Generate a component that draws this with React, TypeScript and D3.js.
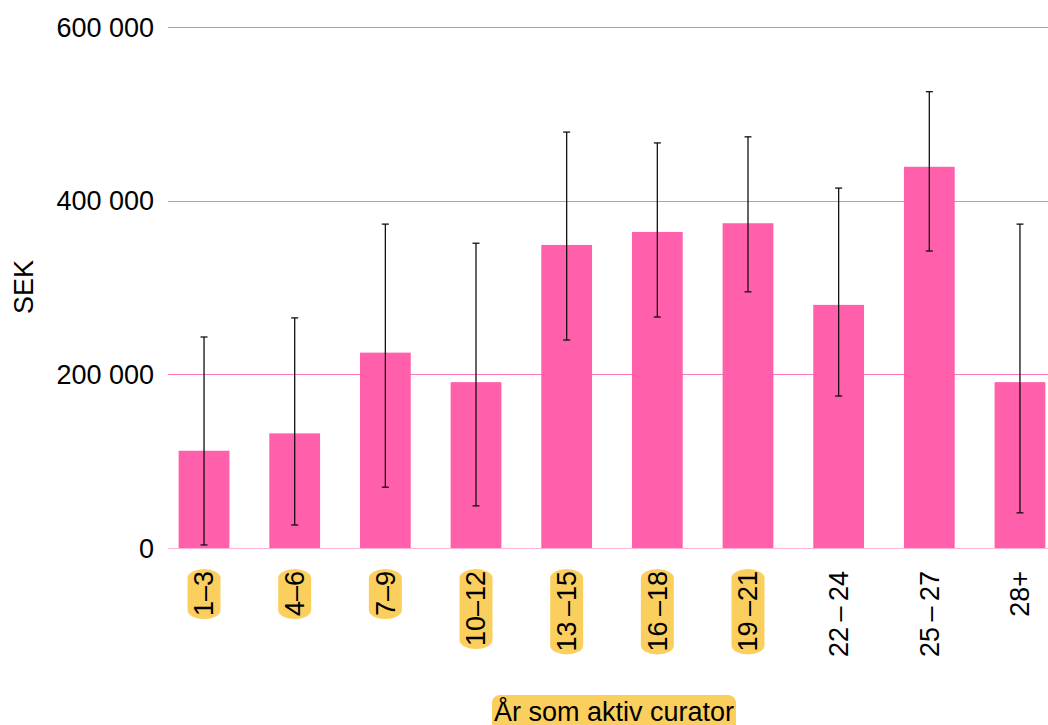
import React, { useEffect, useRef } from "react";
import * as d3 from "d3";

const categories = ["1–3", "4–6", "7–9", "10–12", "13\u2009–15", "16\u2009–18", "19\u2009–21", "22\u2009–\u200924", "25\u2009–\u200927", "28+"];
const highlighted = [true, true, true, true, true, true, true, false, false, false];
const means = [112000, 132000, 225000, 191000, 349000, 364000, 374000, 280000, 439000, 191000];
const errLow = [3500, 26500, 70000, 48500, 239500, 266000, 295000, 175000, 342000, 40500];
const errHigh = [243000, 265000, 373000, 351000, 479000, 466500, 473500, 414500, 525500, 373000];
const yTicks = [0, 200000, 400000, 600000];
const yLabel = "SEK";
const xLabel = "År som aktiv curator";

const W = 1048;
const H = 725;
const PINK = "#ff5fab";
const YELLOW = "#fbcf5e";
const FONT = "'Liberation Sans', Arial, Helvetica, sans-serif";
const FS = 27;

export default function App() {
  const ref = useRef<SVGSVGElement | null>(null);

  useEffect(() => {
    const svg = d3.select(ref.current);
    svg.selectAll("*").remove();

    const y = d3.scaleLinear().domain([0, 600000]).range([548, 27]);
    const x = d3
      .scaleBand<string>()
      .domain(categories)
      .range([158.7, 1065.3])
      .paddingInner(0.44)
      .paddingOuter(0.22);
    const fmt = (v: number) => d3.format(",")(v).replace(/,/g, " ");

    // gridlines
    svg
      .append("g")
      .selectAll("line")
      .data(yTicks)
      .join("line")
      .attr("x1", 168)
      .attr("x2", W)
      .attr("y1", (d) => Math.round(y(d)) + 0.5)
      .attr("y2", (d) => Math.round(y(d)) + 0.5)
      .attr("stroke", PINK)
      .attr("stroke-opacity", (d) => (d === 0 ? 0.45 : 0.85))
      .attr("stroke-width", 1);

    // y tick labels
    svg
      .append("g")
      .selectAll("text")
      .data(yTicks)
      .join("text")
      .attr("x", 154)
      .attr("y", (d) => y(d))
      .attr("dy", "0.36em")
      .attr("text-anchor", "end")
      .attr("font-family", FONT)
      .attr("font-size", FS)
      .attr("fill", "#000")
      .text((d) => fmt(d));

    // y label
    svg
      .append("text")
      .attr("transform", `translate(33,287) rotate(-90)`)
      .attr("text-anchor", "middle")
      .attr("font-family", FONT)
      .attr("font-size", FS)
      .text(yLabel);

    // bars
    svg
      .append("g")
      .selectAll("rect")
      .data(categories)
      .join("rect")
      .attr("x", (d) => x(d)!)
      .attr("width", x.bandwidth())
      .attr("y", (d, i) => y(means[i]))
      .attr("height", (d, i) => y(0) - y(means[i]))
      .attr("fill", PINK);

    // error bars
    const eb = svg.append("g").attr("stroke", "#111").attr("stroke-width", 1.3);
    categories.forEach((c, i) => {
      const cx = x(c)! + x.bandwidth() / 2;
      eb.append("line").attr("x1", cx).attr("x2", cx).attr("y1", y(errHigh[i])).attr("y2", y(errLow[i]));
      eb.append("line").attr("x1", cx - 3.5).attr("x2", cx + 3.5).attr("y1", y(errHigh[i])).attr("y2", y(errHigh[i]));
      eb.append("line").attr("x1", cx - 3.5).attr("x2", cx + 3.5).attr("y1", y(errLow[i])).attr("y2", y(errLow[i]));
    });

    // x labels
    const xl = svg.append("g");
    categories.forEach((c, i) => {
      const cx = x(c)! + x.bandwidth() / 2;
      const g = xl.append("g").attr("transform", `translate(${cx},571) rotate(-90)`);
      const pill = g.append("rect");
      const t = g
        .append("text")
        .attr("x", 0)
        .attr("y", 0)
        .attr("dy", "0.35em")
        .attr("text-anchor", "end")
        .attr("font-family", FONT)
        .attr("font-size", FS)
        .attr("fill", "#000")
        .text(c);
      if (highlighted[i]) {
        const len = (t.node() as SVGTextElement).getComputedTextLength();
        pill
          .attr("x", -len - 3)
          .attr("y", -16.5)
          .attr("width", len + 5)
          .attr("height", 33)
          .attr("rx", 9)
          .attr("ry", 16.5)
          .attr("fill", YELLOW);
      } else {
        pill.remove();
      }
    });

    // x title
    const tg = svg.append("g");
    const tpill = tg.append("rect");
    const tt = tg
      .append("text")
      .attr("x", 614)
      .attr("y", 721)
      .attr("text-anchor", "middle")
      .attr("font-family", FONT)
      .attr("font-size", FS)
      .text(xLabel);
    const tl = (tt.node() as SVGTextElement).getComputedTextLength();
    tpill
      .attr("x", 614 - tl / 2 - 2)
      .attr("y", 695)
      .attr("width", tl + 4)
      .attr("height", 36)
      .attr("rx", 8)
      .attr("fill", YELLOW);
  }, []);

  return (
    <svg
      ref={ref}
      width={W}
      height={H}
      style={{ position: "absolute", left: 0, top: 0, background: "#fff" }}
    />
  );
}
